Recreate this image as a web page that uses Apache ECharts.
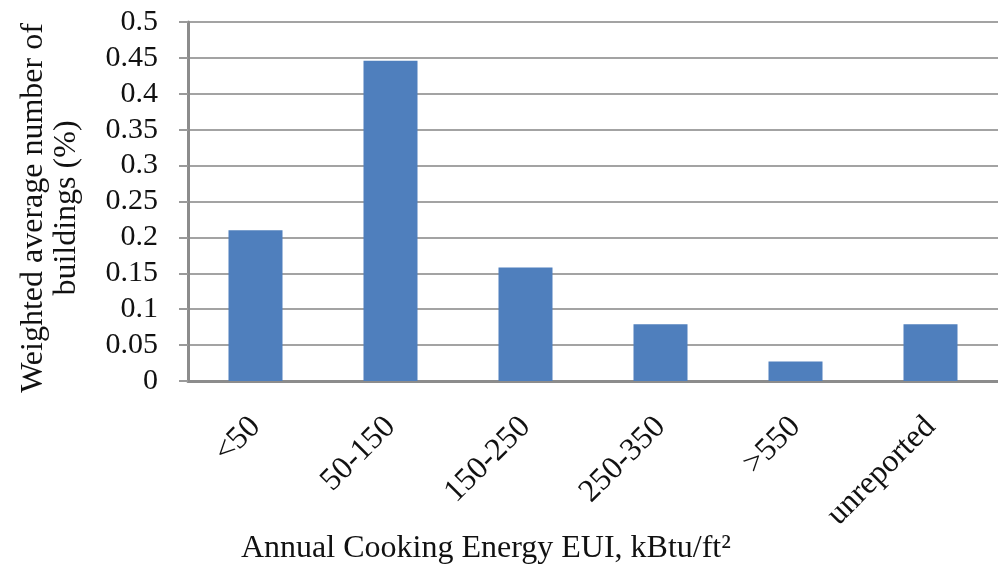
<!DOCTYPE html>
<html>
<head>
<meta charset="utf-8">
<script src="https://cdn.jsdelivr.net/npm/echarts@6/dist/echarts.min.js"></script>
<style>
  html, body { margin: 0; padding: 0; background: #fff; }
  #main { width: 998px; height: 575px; }
</style>
</head>
<body>
<div id="main"></div>
<script>
var myChart = echarts.init(document.getElementById('main'));

// categories / values
var categories = ['<50', '50-150', '150-250', '250-350', '>550', 'unreported'];
var shares = [0.21, 0.446, 0.158, 0.079, 0.027, 0.079];
var yTicks = { min: 0, max: 0.5, interval: 0.05 };

var serif = '"Liberation Serif", "DejaVu Serif", serif';

option = {
    animation: false,
    grid: {
        left: 188,
        right: -11,
        top: 22,
        bottom: 194
    },
    xAxis: {
        type: 'category',
        data: categories,
        axisTick: { show: false },
        axisLine: {
            lineStyle: { color: '#8c8c8c', width: 3 }
        },
        axisLabel: {
            rotate: 45,
            margin: 41,
            color: '#111',
            fontFamily: serif,
            fontSize: 32
        }
    },
    yAxis: {
        type: 'value',
        min: yTicks.min,
        max: yTicks.max,
        interval: yTicks.interval,
        name: 'Weighted average number of\nbuildings (%)',
        nameLocation: 'middle',
        nameRotate: 90,
        nameGap: 105,
        nameTextStyle: {
            color: '#111',
            fontFamily: serif,
            fontSize: 32,
            lineHeight: 33,
            padding: [0, 13, 0, 0]
        },
        axisLine: {
            show: true,
            lineStyle: { color: '#8c8c8c', width: 3 }
        },
        axisTick: {
            show: true,
            length: 9,
            lineStyle: { color: '#9a9a9a', width: 2 }
        },
        axisLabel: {
            margin: 30,
            color: '#111',
            fontFamily: serif,
            fontSize: 30,
            formatter: function (v) { return String(+v.toFixed(2)); }
        },
        splitLine: {
            lineStyle: { color: '#a3a3a3', width: 2 }
        }
    },
    graphic: [{
        type: 'text',
        left: 241,
        top: 533,
        style: {
            text: 'Annual Cooking Energy EUI, kBtu/ft²',
            fill: '#111',
            font: '32px ' + serif
        }
    }],
    series: [{
        type: 'bar',
        data: shares,
        barCategoryGap: '60%',
        itemStyle: { color: '#4f7fbd' }
    }]
};

myChart.setOption(option);

window.onresize = function () {
    myChart.resize();
};
</script>
</body>
</html>
